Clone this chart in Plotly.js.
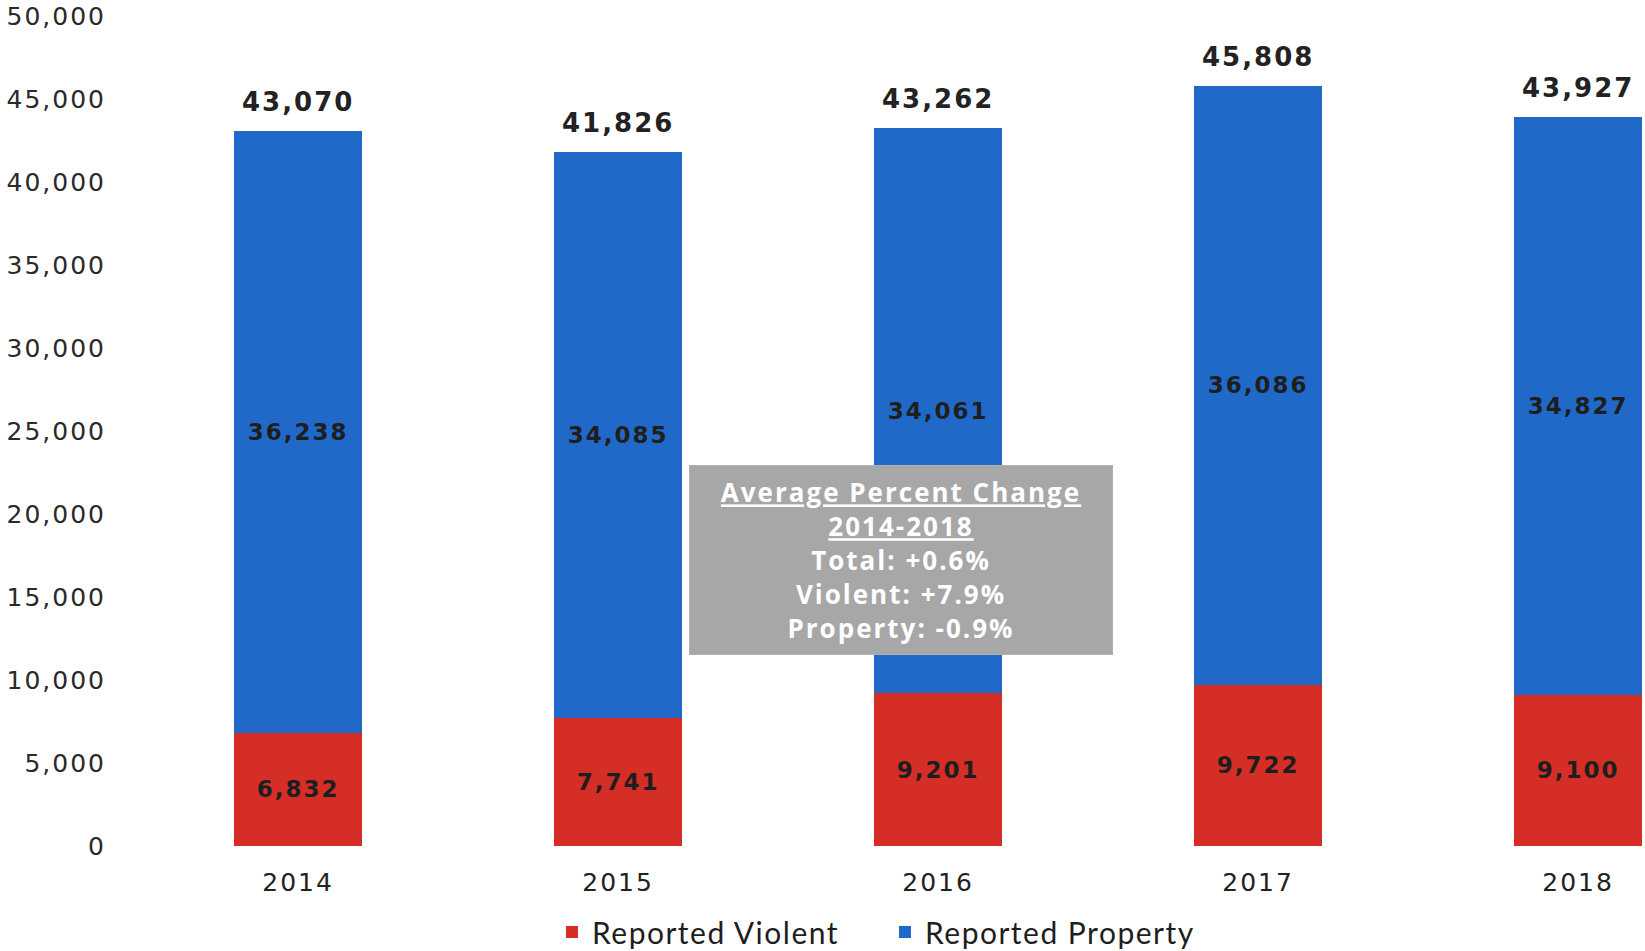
<!DOCTYPE html>
<html>
<head>
<meta charset="utf-8">
<script src="https://cdn.plot.ly/plotly-3.0.1.min.js"></script>
<style>
html,body{margin:0;padding:0;background:#fff;}
#chart{width:1645px;height:951px;}
#chart .xtick text, #chart .ytick text, #chart .bartext, #chart .annotation-text {letter-spacing:2px;}
#chart .legendtext {letter-spacing:1.5px;}
</style>
</head>
<body>
<div id="chart"></div>
<script>
const years = ["2014", "2015", "2016", "2017", "2018"];
const violent = [6832, 7741, 9201, 9722, 9100];
const property = [36238, 34085, 34061, 36086, 34827];
const totals = [43070, 41826, 43262, 45808, 43927];
const boxLines = ["<u>Average Percent Change</u>", "<u>2014-2018</u>", "Total: +0.6%", "Violent: +7.9%", "Property: -0.9%"];

const labelFont = {family: "DejaVu Sans", size: 23, color: "#1e1e1e", weight: "bold"};

const traces = [
  {
    type: "bar", name: "Reported Violent", x: years, y: violent,
    marker: {color: "#d42e27"},
    texttemplate: "%{y:,}", textposition: "inside", insidetextanchor: "middle",
    textfont: labelFont, constraintext: "none", hoverinfo: "x+y"
  },
  {
    type: "bar", name: "Reported Property", x: years, y: property,
    marker: {color: "#2069c9"},
    texttemplate: "%{y:,}", textposition: "inside", insidetextanchor: "middle",
    textfont: labelFont, constraintext: "none", hoverinfo: "x+y"
  }
];

const totalAnnotations = years.map((yr, i) => ({
  x: i, y: totals[i], xref: "x", yref: "y",
  text: totals[i].toLocaleString("en-US"),
  showarrow: false, xanchor: "center", yanchor: "bottom", yshift: 12,
  font: {family: "DejaVu Sans", size: 26, color: "#222222", weight: "bold"}
}));

const boxAnnotation = {
  xref: "paper", yref: "paper", x: 0.514, y: 0.3446,
  xanchor: "center", yanchor: "middle",
  text: boxLines.join("<br>"), showarrow: false,
  bgcolor: "#a7a7a7", bordercolor: "#b0b0b0", borderwidth: 1,
  width: 420, height: 186, align: "center",
  font: {family: "Open Sans", size: 26, color: "#ffffff", weight: "bold"}
};

const layout = {
  width: 1645, height: 951,
  margin: {l: 115, r: 0, t: 16, b: 105, autoexpand: false},
  paper_bgcolor: "#ffffff", plot_bgcolor: "#ffffff",
  barmode: "stack", bargap: 0.6,
  showlegend: true,
  legend: {
    orientation: "h", xref: "paper", x: 0.2856, xanchor: "left",
    yref: "container", y: 0.02, yanchor: "middle",
    font: {family: "Lato", size: 30, color: "#1e1e1e"}, traceorder: "normal",
    entrywidth: 288, entrywidthmode: "pixels"
  },
  xaxis: {
    type: "category", range: [-0.572, 4.209],
    showgrid: false, zeroline: false, showline: false, ticks: "",
    ticklabelstandoff: 19,
    tickfont: {family: "DejaVu Sans", size: 25, color: "#222222"}
  },
  yaxis: {
    range: [0, 50000], dtick: 5000, tickformat: ",d",
    showgrid: false, zeroline: false, showline: false, ticks: "",
    ticklabelstandoff: 8,
    tickfont: {family: "DejaVu Sans", size: 25, color: "#2a2a2a"}
  },
  annotations: totalAnnotations.concat([boxAnnotation])
};

Plotly.newPlot("chart", traces, layout, {displayModeBar: false, staticPlot: true});
</script>
</body>
</html>
